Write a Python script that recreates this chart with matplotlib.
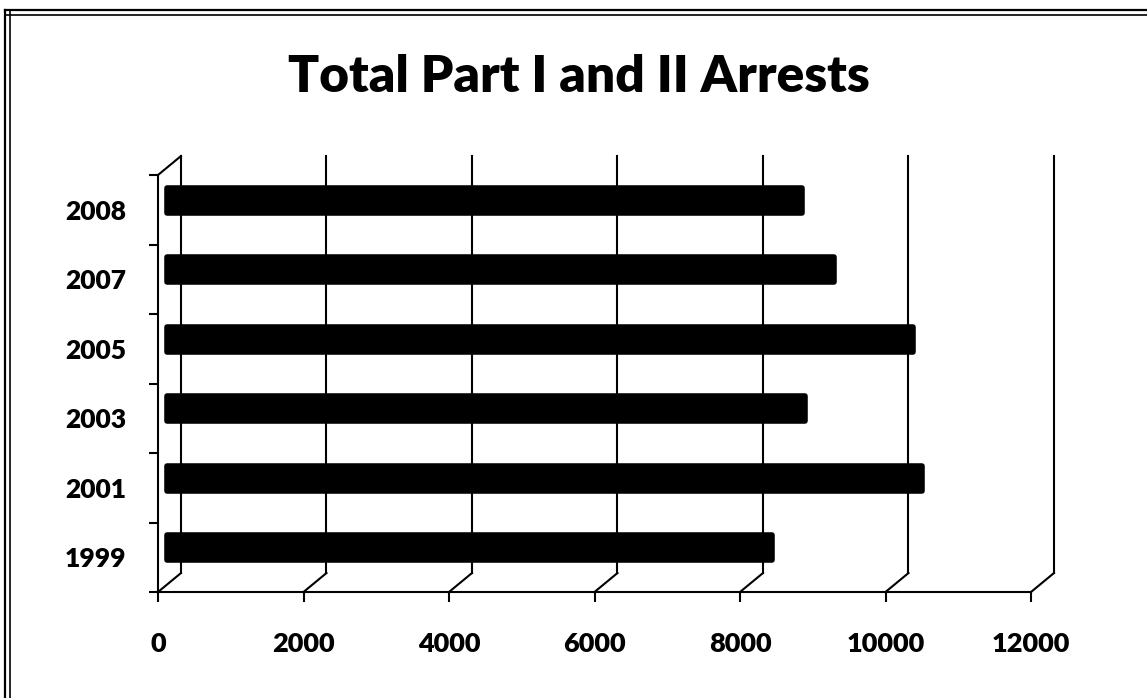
import matplotlib
matplotlib.use("Agg")
import matplotlib.pyplot as plt
from matplotlib.lines import Line2D

# ---- data ----
years = ["1999", "2001", "2003", "2005", "2007", "2008"]
arrests = [8320, 10380, 8770, 10255, 9170, 8730]
xticks = [0, 2000, 4000, 6000, 8000, 10000, 12000]
title = "Total Part I and II Arrests"

# ---- style ----
FONT = "Lato"
DEPTH_X = 316      # back wall offset in data units (x)
DEPTH_Y = 0.273    # back wall offset in category units (y)
BAR_DX = 0.40      # bar depth position as fraction of full depth (x)
BAR_DY = 0.50      # bar depth position as fraction of full depth (y)
LW = 1.5

fig = plt.figure(figsize=(11.47, 6.98), dpi=100)
W, H = 1147, 698
ax = fig.add_axes([158 / W, (H - 592) / H, (1031 - 158) / W, (592 - 175) / H])

n = len(years)
ax.set_xlim(0, 12000)
ax.set_ylim(-0.5, n - 0.5)

# back wall vertical lines and floor diagonals
for xv in xticks:
    ax.plot([xv + DEPTH_X, xv + DEPTH_X], [-0.5 + DEPTH_Y, n - 0.5 + DEPTH_Y],
            color="black", lw=LW, clip_on=False, zorder=1)
    ax.plot([xv, xv + DEPTH_X], [-0.5, -0.5 + DEPTH_Y],
            color="black", lw=LW, clip_on=False, zorder=1)
# top-left diagonal
ax.plot([0, DEPTH_X], [n - 0.5, n - 0.5 + DEPTH_Y], color="black", lw=LW,
        clip_on=False, zorder=1)

# bars (cylinders seen from the side)
ypos = list(range(n))
ax.barh([y + DEPTH_Y * BAR_DY for y in ypos], arrests, height=0.355,
        left=DEPTH_X * BAR_DX, color="black", edgecolor="black",
        linewidth=4, joinstyle="round", clip_on=False, zorder=3)

# axes styling
for s in ["top", "right"]:
    ax.spines[s].set_visible(False)
for s in ["left", "bottom"]:
    ax.spines[s].set_linewidth(LW)
    ax.spines[s].set_color("black")
    ax.spines[s].set_zorder(4)

ax.set_xticks(xticks)
ax.set_xticklabels([str(v) for v in xticks], fontfamily=FONT,
                   fontweight="heavy", fontsize=19.5)
ax.tick_params(axis="x", direction="out", length=7, width=LW, pad=22)

ax.set_yticks([i - 0.5 for i in range(n + 1)])
ax.set_yticklabels([])
ax.tick_params(axis="y", which="major", direction="out", length=6.5, width=LW)
ax.set_yticks(ypos, minor=True)
ax.set_yticklabels(years, minor=True, fontfamily=FONT, fontweight="heavy",
                   fontsize=19)
ax.tick_params(axis="y", which="minor", length=0, pad=23)

ax.patch.set_alpha(0)

fig.text(579 / W, (H - 92) / H, title, ha="center", va="baseline",
         fontfamily=FONT, fontweight="heavy", fontsize=37)

# outer double frame (top and left)
for yy in [10, 15]:
    fig.add_artist(Line2D([5 / W, 1], [(H - yy) / H] * 2, color="black",
                          lw=1.6 if yy == 10 else 1.2, transform=fig.transFigure))
for xx in [5, 10]:
    fig.add_artist(Line2D([xx / W] * 2, [0, (H - 10) / H], color="black",
                          lw=1.6 if xx == 5 else 1.2, transform=fig.transFigure))

fig.savefig("out.png", dpi=100, facecolor="white")
